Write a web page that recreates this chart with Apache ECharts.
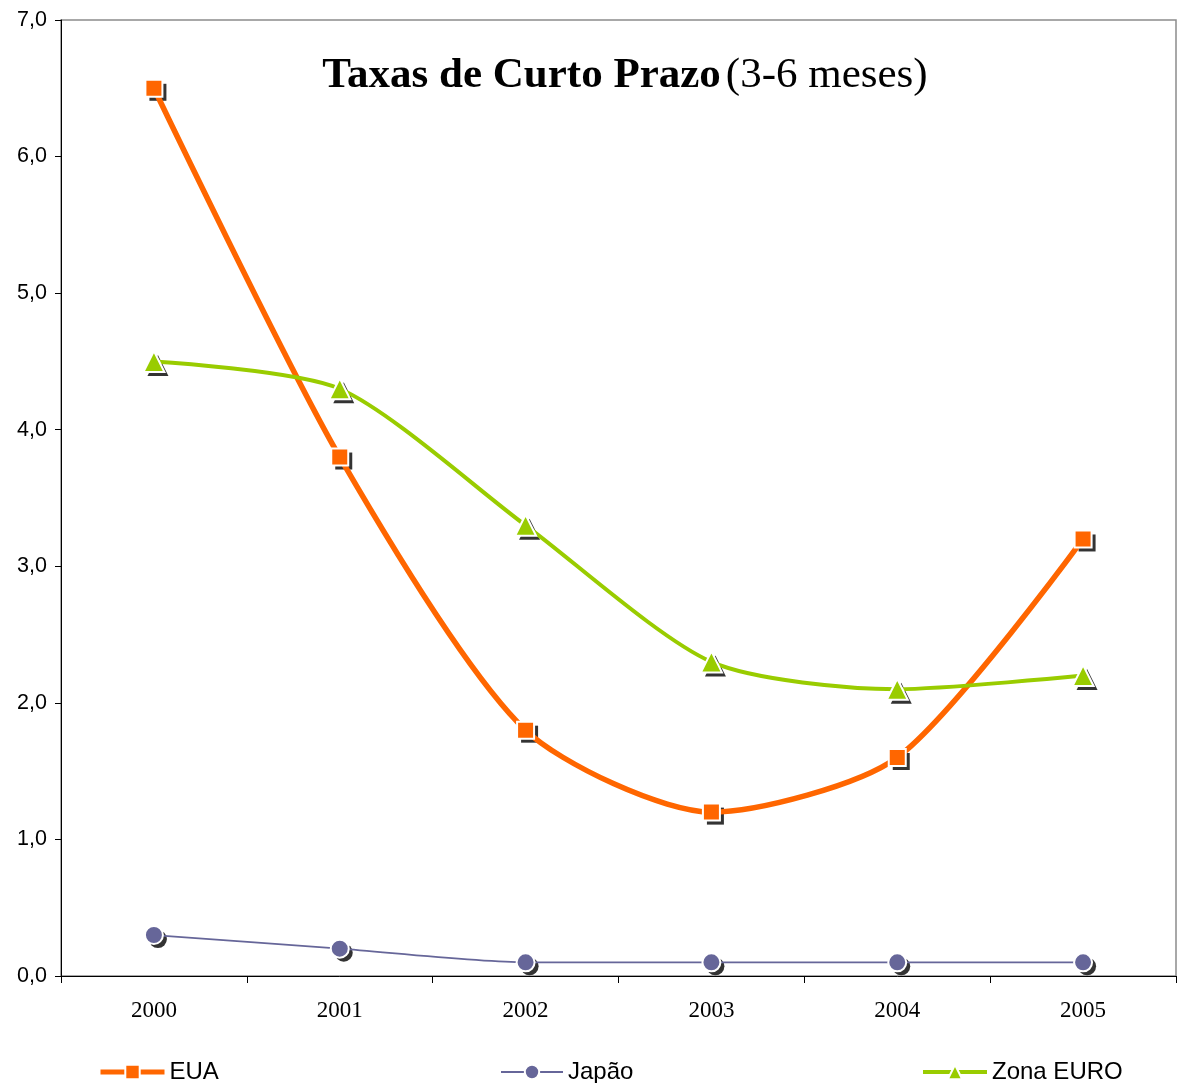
<!DOCTYPE html>
<html>
<head>
<meta charset="utf-8">
<script src="https://cdn.jsdelivr.net/npm/echarts@6/dist/echarts.min.js"></script>
<style>
  html, body { margin: 0; padding: 0; background: #fff; }
  #chart { width: 1178px; height: 1083px; }
</style>
</head>
<body>
<div id="chart"></div>
<script>
// Short-term interest rates (3-6 months), yearly
const years = ['2000', '2001', '2002', '2003', '2004', '2005'];
const eua = [6.5, 3.8, 1.8, 1.2, 1.6, 3.2];
const japao = [0.3, 0.2, 0.1, 0.1, 0.1, 0.1];
const zonaEuro = [4.5, 4.3, 3.3, 2.3, 2.1, 2.2];
const yTicks = { min: 0, max: 7, interval: 1 };

const chart = echarts.init(document.getElementById('chart'));

const legendFont = { fontFamily: 'Liberation Sans, Arial, sans-serif', fontSize: 24, color: '#000' };

function legendAt(name, left, lineWidth, iconWidth) {
  return {
    data: [{ name: name, lineStyle: { width: lineWidth } }],
    left: left,
    top: 1055,
    itemWidth: iconWidth,
    itemHeight: 18,
    itemGap: 10,
    textStyle: legendFont
  };
}

// Black drop shadow drawn under each marker, offset down-right
function markerShadow(data, symbol, size) {
  return {
    type: 'scatter',
    data: data,
    symbol: symbol,
    symbolSize: size,
    symbolOffset: [4, 4],
    itemStyle: { color: '#000' },
    silent: true,
    z: 1
  };
}

function rateLine(name, data, color, width, symbol, size) {
  return {
    name: name,
    type: 'line',
    data: data,
    smooth: 0.25,
    symbol: symbol,
    symbolSize: size,
    lineStyle: { color: color, width: width },
    itemStyle: { color: color, borderColor: '#fff', borderWidth: 2 },
    z: 3
  };
}

chart.setOption({
  animation: false,
  backgroundColor: '#fff',
  title: {
    text: '{b|Taxas de Curto Prazo} {n|(3-6 meses)}',
    left: 620,
    textAlign: 'center',
    top: 49,
    textStyle: {
      rich: {
        b: { fontFamily: 'Liberation Serif, Times New Roman, serif', fontSize: 43, fontWeight: 'bold', color: '#000' },
        n: { fontFamily: 'Liberation Serif, Times New Roman, serif', fontSize: 43, fontWeight: 'normal', color: '#000' }
      }
    }
  },
  legend: [
    legendAt('EUA', 93, 5, 64),
    legendAt('Japão', 495, 2, 62),
    legendAt('Zona EURO', 916, 4, 64)
  ],
  grid: {
    left: 61,
    right: 2,
    top: 20,
    bottom: 107,
    show: true,
    borderColor: '#8c8c8c',
    borderWidth: 1.5
  },
  xAxis: {
    type: 'category',
    data: years,
    boundaryGap: true,
    axisLine: { lineStyle: { color: '#000', width: 1 } },
    axisTick: { show: true, length: 7, interval: 0, lineStyle: { color: '#000' } },
    axisLabel: {
      margin: 23,
      fontFamily: 'Liberation Serif, Times New Roman, serif',
      fontSize: 23,
      color: '#000'
    },
    splitLine: { show: false }
  },
  yAxis: {
    type: 'value',
    min: yTicks.min,
    max: yTicks.max,
    interval: yTicks.interval,
    axisLine: { show: true, lineStyle: { color: '#000', width: 1 } },
    axisTick: { show: true, length: 6, lineStyle: { color: '#000' } },
    axisLabel: {
      margin: 14,
      fontFamily: 'Liberation Sans, Arial, sans-serif',
      fontSize: 21.5,
      color: '#000',
      formatter: v => v.toFixed(1).replace('.', ',')
    },
    splitLine: { show: false }
  },
  series: [
    markerShadow(eua, 'rect', 17),
    markerShadow(japao, 'circle', 18),
    markerShadow(zonaEuro, 'triangle', 21),
    rateLine('EUA', eua, '#ff6600', 5.5, 'rect', 17),
    rateLine('Japão', japao, '#666699', 1.8, 'circle', 18),
    rateLine('Zona EURO', zonaEuro, '#99cc00', 4, 'triangle', 21)
  ]
});
</script>
</body>
</html>
